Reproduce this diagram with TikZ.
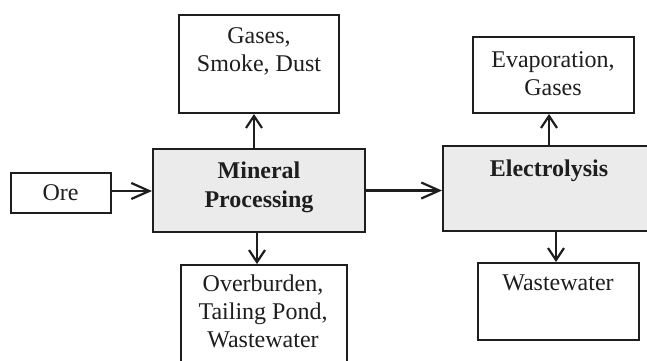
\documentclass[tikz,border=0pt]{standalone}
\usepackage{fontspec}
\setmainfont{Liberation Serif}
\usetikzlibrary{arrows.meta}
\definecolor{boxgray}{HTML}{EBEBEB}
\definecolor{ink}{HTML}{1E1E1E}
\begin{document}
\begin{tikzpicture}[x=1pt,y=-1pt,
  box/.style={draw=ink, line width=2pt, rectangle, inner sep=0pt},
  procbox/.style={box, fill=boxgray},
  txt/.style={text=ink, align=center, inner sep=0pt, anchor=base,
    font=\fontsize{24}{28}\selectfont},
  btxt/.style={txt, font=\fontsize{24}{29}\selectfont\bfseries},
  harr/.style={draw=ink, line width=2.2pt, -{Straight Barb[length=18pt,width=16pt]}},
  varr/.style={draw=ink, line width=2.2pt, -{Straight Barb[length=12pt,width=16pt]}}]
\useasboundingbox (0,0) rectangle (647,360);
\clip (0,0) rectangle (647,360);
\fill[white] (0,0) rectangle (647,360);
% boxes
\node[box, minimum width=100pt, minimum height=40pt] (ore) at (61,193) {};
\node[procbox, minimum width=212pt, minimum height=83pt] (mp) at (259,190.5) {};
\node[box, minimum width=160pt, minimum height=98pt] (gas) at (259,64) {};
\node[box, minimum width=166pt, minimum height=115pt] (ovb) at (264,322.5) {};
\node[procbox, minimum width=217pt, minimum height=85pt] (elec) at (551.5,188.5) {};
\node[box, minimum width=161pt, minimum height=76pt] (evap) at (553.5,75) {};
\node[box, minimum width=161pt, minimum height=77pt] (ww) at (558.5,301.5) {};
% texts (anchor = baseline of last line)
\node[txt] at (60.5,200) {Ore};
\node[btxt] at (259,207) {Mineral\\Processing};
\node[txt] at (259,71) {Gases,\\Smoke, Dust};
\node[txt] at (263,347) {Overburden,\\Tailing Pond,\\Wastewater};
\node[btxt] at (549,176) {Electrolysis};
\node[txt] at (553,95) {Evaporation,\\Gases};
\node[txt] at (558,290) {Wastewater};
% connectors
\draw[harr] (ore.east |- 0,191) -- (mp.west |- 0,191);
\draw[harr] (mp.east) -- (mp.east -| elec.west);
\draw[varr] ([xshift=-5pt]mp.north) -- ([xshift=-5pt]mp.north |- gas.south);
\draw[varr] ([xshift=-2pt]mp.south) -- ([xshift=-2pt]mp.south |- ovb.north);
\draw[varr] ([xshift=-2.5pt]elec.north) -- ([xshift=-2.5pt]elec.north |- evap.south);
\draw[varr] ([xshift=4.5pt]elec.south) -- ([xshift=4.5pt]elec.south |- ww.north);
\end{tikzpicture}
\end{document}
